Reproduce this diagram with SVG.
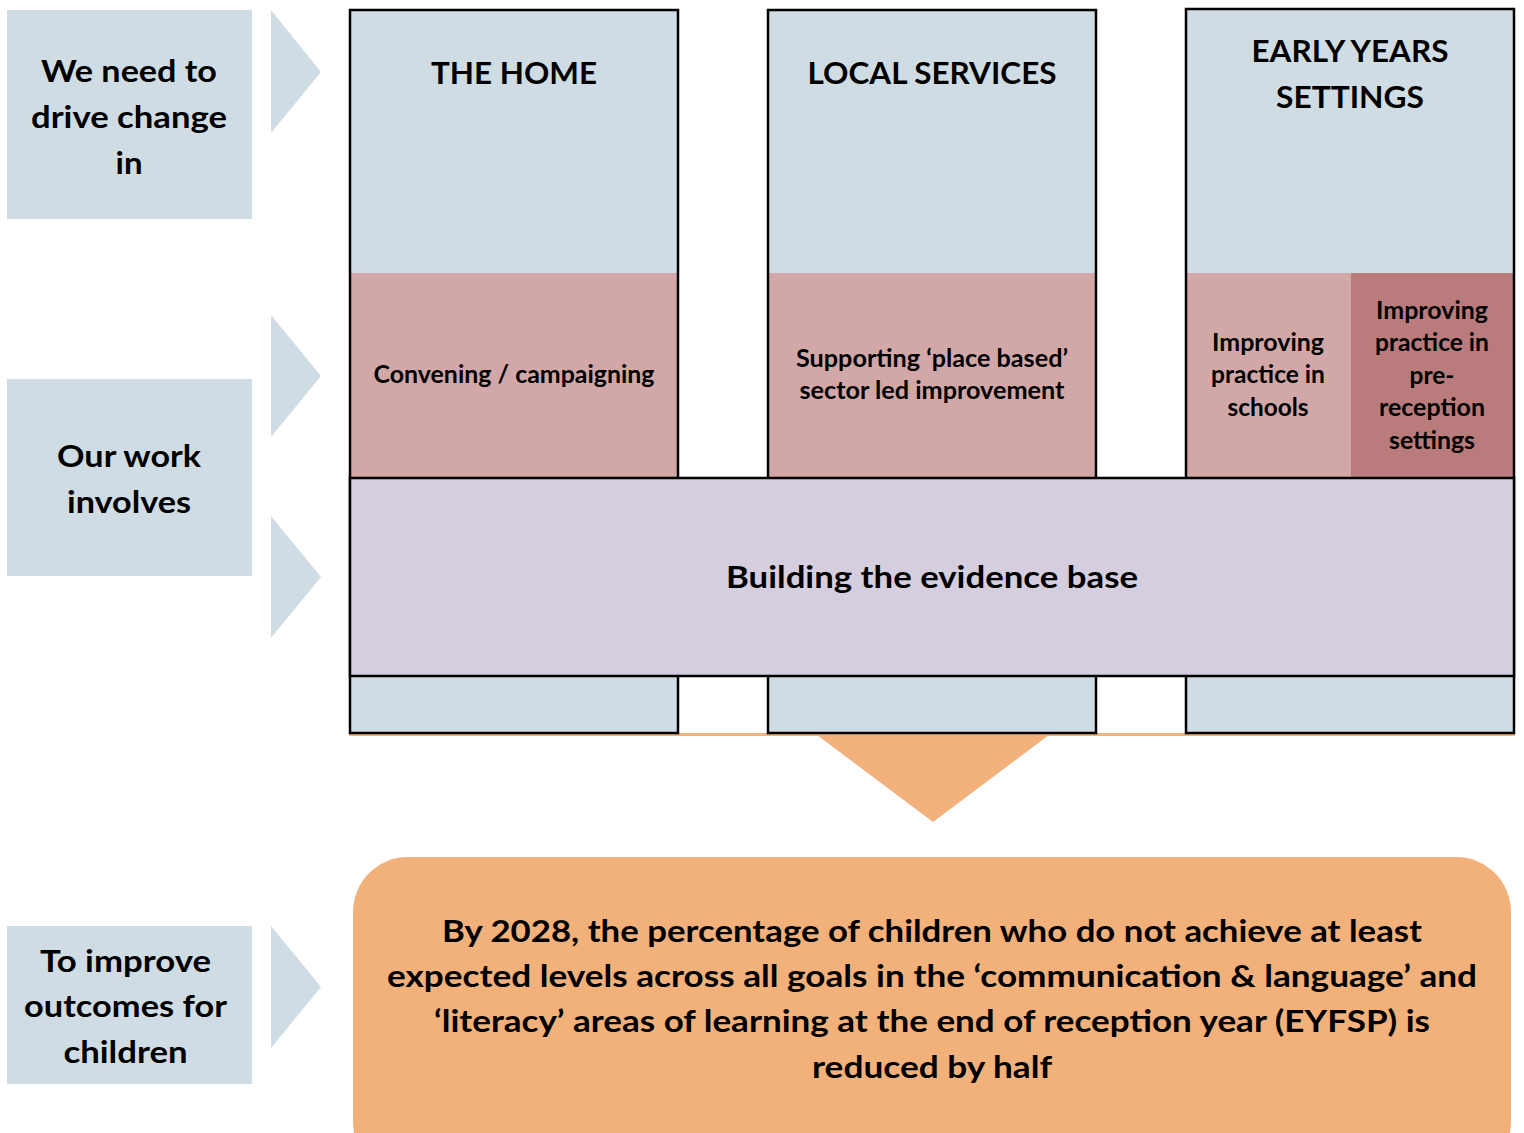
<svg xmlns="http://www.w3.org/2000/svg" width="1524" height="1133" viewBox="0 0 1524 1133">
<style>
.t{font-family:Lato,"Open Sans","Liberation Sans",sans-serif;font-weight:bold;fill:#000;text-anchor:middle}
.l{font-size:31px}
.m{font-size:24px}
.blue{fill:#CFDCE4}
.pink{fill:#D1A7A8}
.dpink{fill:#B97B7C}
.edge{fill:none;stroke:#000;stroke-width:2.5}
.chev{fill:#CFDCE4}
</style>
<rect width="1524" height="1133" fill="#fff"/>
<g id="connectors">
<polygon class="chev" points="271,10 321,72 271,133"/>
<polygon class="chev" points="271,315 321,376 271,437"/>
<polygon class="chev" points="271,516 321,577 271,638"/>
<polygon class="chev" points="271,926 321,987 271,1048"/>
<rect x="349" y="733" width="1166" height="3" fill="#F2B27A"/>
<polygon points="817,735 1049,735 933,822" fill="#F2B07A"/>
</g>
<g id="label-drive">
<rect class="blue" x="7" y="10" width="245" height="209"/>
<text class="t l" x="129" y="82" textLength="176" lengthAdjust="spacingAndGlyphs">We need to</text>
<text class="t l" x="129" y="128" textLength="196" lengthAdjust="spacingAndGlyphs">drive change</text>
<text class="t l" x="129" y="174" textLength="27" lengthAdjust="spacingAndGlyphs">in</text>
</g>
<g id="label-work">
<rect class="blue" x="7" y="379" width="245" height="197"/>
<text class="t l" x="129" y="467" textLength="144" lengthAdjust="spacingAndGlyphs">Our work</text>
<text class="t l" x="129" y="513" textLength="124" lengthAdjust="spacingAndGlyphs">involves</text>
</g>
<g id="label-improve">
<rect class="blue" x="7" y="926" width="245" height="158"/>
<text class="t l" x="125.5" y="972" textLength="171" lengthAdjust="spacingAndGlyphs">To improve</text>
<text class="t l" x="125.5" y="1017" textLength="203" lengthAdjust="spacingAndGlyphs">outcomes for</text>
<text class="t l" x="125.5" y="1063" textLength="124" lengthAdjust="spacingAndGlyphs">children</text>
</g>
<g id="col-home">
<rect class="blue" x="350" y="10" width="328" height="723"/>
<rect class="pink" x="350" y="273" width="328" height="204"/>
<rect class="edge" x="350" y="10" width="328" height="723"/>
<text class="t l" x="514" y="84" textLength="166" lengthAdjust="spacingAndGlyphs">THE HOME</text>
<text class="t m" x="514" y="383" textLength="281" lengthAdjust="spacingAndGlyphs">Convening / campaigning</text>
</g>
<g id="col-local">
<rect class="blue" x="768" y="10" width="328" height="723"/>
<rect class="pink" x="768" y="273" width="328" height="204"/>
<rect class="edge" x="768" y="10" width="328" height="723"/>
<text class="t l" x="932" y="84" textLength="249" lengthAdjust="spacingAndGlyphs">LOCAL SERVICES</text>
<text class="t m" x="932" y="367" textLength="272" lengthAdjust="spacingAndGlyphs">Supporting ‘place based’</text>
<text class="t m" x="932" y="399" textLength="265" lengthAdjust="spacingAndGlyphs">sector led improvement</text>
</g>
<g id="col-early">
<rect class="blue" x="1186" y="9" width="328" height="724"/>
<rect class="pink" x="1186" y="273" width="165" height="204"/>
<rect class="dpink" x="1351" y="273" width="163" height="204"/>
<rect class="edge" x="1186" y="9" width="328" height="724"/>
<text class="t l" x="1350" y="62" textLength="197" lengthAdjust="spacingAndGlyphs">EARLY YEARS</text>
<text class="t l" x="1350" y="108" textLength="148" lengthAdjust="spacingAndGlyphs">SETTINGS</text>
<text class="t m" x="1268" y="351" textLength="112" lengthAdjust="spacingAndGlyphs">Improving</text>
<text class="t m" x="1268" y="383" textLength="114" lengthAdjust="spacingAndGlyphs">practice in</text>
<text class="t m" x="1268" y="416" textLength="81" lengthAdjust="spacingAndGlyphs">schools</text>
<text class="t m" x="1432" y="319" textLength="112" lengthAdjust="spacingAndGlyphs">Improving</text>
<text class="t m" x="1432" y="351" textLength="114" lengthAdjust="spacingAndGlyphs">practice in</text>
<text class="t m" x="1432" y="384" textLength="45" lengthAdjust="spacingAndGlyphs">pre-</text>
<text class="t m" x="1432" y="416" textLength="106" lengthAdjust="spacingAndGlyphs">reception</text>
<text class="t m" x="1432" y="449" textLength="86" lengthAdjust="spacingAndGlyphs">settings</text>
</g>
<g id="evidence">
<rect x="350" y="478" width="1164" height="198" fill="#D5CEDF" stroke="#000" stroke-width="2.5"/>
<text class="t l" x="932" y="588" textLength="412" lengthAdjust="spacingAndGlyphs">Building the evidence base</text>
</g>
<g id="outcome">
<rect x="353" y="857" width="1158" height="320" rx="55" ry="55" fill="#F2B07A"/>
<text class="t l" x="932" y="942" textLength="980" lengthAdjust="spacingAndGlyphs">By 2028, the percentage of children who do not achieve at least</text>
<text class="t l" x="932" y="987" textLength="1090" lengthAdjust="spacingAndGlyphs">expected levels across all goals in the ‘communication &amp; language’ and</text>
<text class="t l" x="932" y="1032" textLength="996" lengthAdjust="spacingAndGlyphs">‘literacy’ areas of learning at the end of reception year (EYFSP) is</text>
<text class="t l" x="932" y="1078" textLength="240" lengthAdjust="spacingAndGlyphs">reduced by half</text>
</g>
</svg>
